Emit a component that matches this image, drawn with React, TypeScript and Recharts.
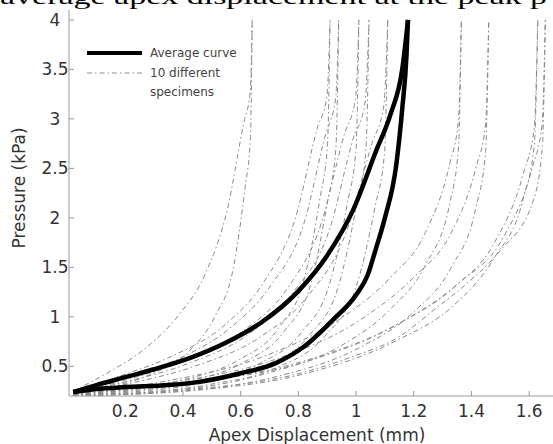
import React from "react";
import { LineChart, Line, XAxis, YAxis } from "recharts";

type Pt = [number, number];

const xTicks = [0.2, 0.4, 0.6, 0.8, 1, 1.2, 1.4, 1.6];
const yTicks = [0.5, 1, 1.5, 2, 2.5, 3, 3.5, 4];

// average hysteresis loop, split into its two branches
const averageUpper: Pt[] = [
  [0.02, 0.24], [0.1, 0.31], [0.2, 0.39], [0.3, 0.47], [0.43, 0.59], [0.55, 0.74],
  [0.67, 0.94], [0.8, 1.26], [0.9, 1.62], [0.99, 2.08], [1.07, 2.68], [1.12, 3.05],
  [1.16, 3.5], [1.18, 4.0],
];
const averageLower: Pt[] = [
  [0.02, 0.24], [0.1, 0.27], [0.2, 0.29], [0.35, 0.31], [0.45, 0.34], [0.6, 0.43],
  [0.72, 0.53], [0.82, 0.7], [0.92, 0.97], [1.0, 1.22], [1.04, 1.42], [1.07, 1.7],
  [1.1, 2.0], [1.14, 2.55], [1.16, 3.1], [1.175, 3.65], [1.18, 4.0],
];

// 10 specimens, upper branch
const specimenUpper: Pt[][] = [
  [[0.02, 0.25], [0.13, 0.42], [0.26, 0.66], [0.38, 1.0], [0.48, 1.45], [0.555, 2.1], [0.61, 2.95], [0.633, 3.27], [0.64, 4.0]],
  [[0.02, 0.24], [0.18, 0.4], [0.36, 0.6], [0.55, 0.93], [0.68, 1.35], [0.79, 2.0], [0.865, 2.9], [0.899, 3.23], [0.91, 4.0]],
  [[0.02, 0.24], [0.19, 0.38], [0.38, 0.57], [0.56, 0.88], [0.7, 1.3], [0.82, 1.95], [0.895, 2.85], [0.929, 3.2], [0.94, 4.0]],
  [[0.02, 0.23], [0.2, 0.36], [0.4, 0.55], [0.61, 0.86], [0.76, 1.28], [0.88, 1.95], [0.96, 2.85], [0.998, 3.2], [1.01, 4.0]],
  [[0.02, 0.23], [0.21, 0.35], [0.42, 0.53], [0.63, 0.83], [0.78, 1.24], [0.91, 1.9], [0.99, 2.8], [1.031, 3.16], [1.045, 4.0]],
  [[0.02, 0.22], [0.22, 0.33], [0.44, 0.5], [0.67, 0.8], [0.83, 1.2], [0.965, 1.85], [1.055, 2.75], [1.096, 3.13], [1.11, 4.0]],
  [[0.02, 0.23], [0.34, 0.35], [0.68, 0.6], [0.955, 1.0], [1.12, 1.4], [1.24, 1.85], [1.325, 2.55], [1.355, 2.99], [1.365, 4.0]],
  [[0.02, 0.23], [0.365, 0.34], [0.73, 0.58], [1.02, 0.98], [1.2, 1.4], [1.33, 1.85], [1.415, 2.5], [1.449, 2.95], [1.46, 4.0]],
  [[0.02, 0.22], [0.41, 0.33], [0.815, 0.55], [1.14, 0.92], [1.34, 1.3], [1.48, 1.75], [1.58, 2.45], [1.618, 2.92], [1.63, 4.0]],
  [[0.02, 0.22], [0.42, 0.33], [0.83, 0.55], [1.16, 0.95], [1.36, 1.35], [1.51, 1.8], [1.61, 2.5], [1.645, 2.95], [1.656, 4.0]],
];

// 10 specimens, lower branch
const specimenLower: Pt[][] = [
  [[0.02, 0.23], [0.16, 0.3], [0.29, 0.42], [0.42, 0.65], [0.51, 1.0], [0.575, 1.5], [0.615, 2.3], [0.634, 2.81], [0.64, 4.0]],
  [[0.02, 0.22], [0.23, 0.28], [0.41, 0.37], [0.59, 0.56], [0.73, 0.88], [0.82, 1.38], [0.875, 2.2], [0.901, 2.74], [0.91, 4.0]],
  [[0.02, 0.22], [0.24, 0.27], [0.42, 0.35], [0.61, 0.54], [0.75, 0.85], [0.845, 1.35], [0.9, 2.15], [0.93, 2.7], [0.94, 4.0]],
  [[0.02, 0.21], [0.25, 0.26], [0.46, 0.34], [0.66, 0.52], [0.81, 0.84], [0.91, 1.35], [0.97, 2.15], [1.0, 2.7], [1.01, 4.0]],
  [[0.02, 0.21], [0.26, 0.25], [0.47, 0.33], [0.68, 0.5], [0.84, 0.82], [0.94, 1.32], [1.0, 2.1], [1.034, 2.67], [1.045, 4.0]],
  [[0.02, 0.2], [0.28, 0.24], [0.5, 0.32], [0.72, 0.48], [0.89, 0.8], [1.0, 1.3], [1.065, 2.1], [1.099, 2.67], [1.11, 4.0]],
  [[0.02, 0.21], [0.41, 0.27], [0.68, 0.42], [0.955, 0.72], [1.12, 1.08], [1.24, 1.52], [1.325, 2.15], [1.355, 2.71], [1.365, 4.0]],
  [[0.02, 0.2], [0.44, 0.26], [0.73, 0.4], [1.02, 0.7], [1.2, 1.05], [1.33, 1.5], [1.415, 2.1], [1.449, 2.67], [1.46, 4.0]],
  [[0.02, 0.2], [0.49, 0.27], [0.815, 0.42], [1.14, 0.76], [1.34, 1.12], [1.48, 1.6], [1.58, 2.2], [1.618, 2.74], [1.63, 4.0]],
  [[0.02, 0.2], [0.4, 0.26], [0.806, 0.43], [0.98, 0.59], [1.15, 0.8], [1.27, 1.07], [1.385, 1.34], [1.5, 1.67], [1.615, 2.18], [1.646, 2.73], [1.656, 4.0]],
];

const toRows = (pts: Pt[]) => pts.map(([x, y]) => ({ x, y }));

const axisColor = "#9a9a9a";
const textColor = "#333";
const sans = "DejaVu Sans";
const dashColor = "#8a8a8a";
const dash = "5 3 1.5 3";

const XTick = (props: any) => {
  const { x, y, payload } = props;
  return (
    <g>
      <line x1={x} x2={x} y1={y} y2={y - 5} stroke={axisColor} />
      <text x={x} y={y + 21} textAnchor="middle" fontFamily={sans} fontSize={17} fill={textColor}>
        {String(payload.value)}
      </text>
    </g>
  );
};

const YTick = (props: any) => {
  const { x, y, payload } = props;
  return (
    <g>
      <line x1={x} x2={x + 5} y1={y} y2={y} stroke={axisColor} />
      <text x={x - 14} y={y + 6} textAnchor="middle" fontFamily={sans} fontSize={17} fill={textColor}>
        {String(payload.value)}
      </text>
    </g>
  );
};

export default function App() {
  return (
    <div style={{ position: "absolute", left: 0, top: 0, width: 553, height: 444, overflow: "hidden", background: "#fff" }}>
      <div style={{ position: "absolute", left: 0, top: 0 }}>
        <LineChart width={558} height={444} margin={{ top: 10, right: 0, bottom: 0, left: 0 }}>
          <XAxis
            dataKey="x"
            type="number"
            domain={[0.005, 1.7]}
            allowDataOverflow
            ticks={xTicks}
            height={48}
            tickSize={0}
            tickMargin={0}
            tickLine={false}
            axisLine={{ stroke: axisColor }}
            tick={<XTick />}
          />
          <XAxis
            xAxisId="top"
            orientation="top"
            type="number"
            domain={[0.005, 1.7]}
            height={0}
            tick={false}
            tickLine={false}
            axisLine={{ stroke: axisColor }}
          />
          <YAxis
            dataKey="y"
            type="number"
            domain={[0.2, 4.1]}
            allowDataOverflow
            ticks={yTicks}
            width={69}
            tickSize={0}
            tickMargin={0}
            tickLine={false}
            axisLine={{ stroke: axisColor }}
            tick={<YTick />}
          />
          {specimenUpper.map((s, i) => (
            <Line
              key={`up-${i}`}
              data={toRows(s)}
              dataKey="y"
              type="monotone"
              stroke={dashColor}
              strokeWidth={1}
              strokeDasharray={dash}
              dot={false}
              isAnimationActive={false}
            />
          ))}
          {specimenLower.map((s, i) => (
            <Line
              key={`lo-${i}`}
              data={toRows(s)}
              dataKey="y"
              type="monotone"
              stroke={dashColor}
              strokeWidth={1}
              strokeDasharray={dash}
              dot={false}
              isAnimationActive={false}
            />
          ))}
          <Line
            data={toRows(averageUpper)}
            dataKey="y"
            type="monotone"
            stroke="#000"
            strokeWidth={4.5}
            dot={false}
            isAnimationActive={false}
          />
          <Line
            data={toRows(averageLower)}
            dataKey="y"
            type="monotone"
            stroke="#000"
            strokeWidth={4.5}
            dot={false}
            isAnimationActive={false}
          />
        </LineChart>
      </div>
      <svg width={553} height={444} style={{ position: "absolute", left: 0, top: 0, pointerEvents: "none" }}>
        <text x={0} y={6.7} transform="scale(1,0.6)" fontFamily="Liberation Serif" fontSize={34} fill="#000">
          average apex displacement at the peak p
        </text>
        <text x={317} y={441} textAnchor="middle" fontFamily={sans} fontSize={17} fill={textColor}>
          Apex Displacement (mm)
        </text>
        <text
          x={0}
          y={0}
          transform="translate(25,188) rotate(-90)"
          textAnchor="middle"
          fontFamily={sans}
          fontSize={17}
          fill={textColor}
        >
          Pressure (kPa)
        </text>
        <line x1={87} x2={142} y1={53} y2={53} stroke="#000" strokeWidth={4} />
        <line x1={87} x2={142} y1={73} y2={73} stroke={dashColor} strokeWidth={1} strokeDasharray={dash} />
        <text x={150} y={57} fontFamily={sans} fontSize={12} fill="#444">Average curve</text>
        <text x={150} y={77} fontFamily={sans} fontSize={12} fill="#444">10 different</text>
        <text x={150} y={96} fontFamily={sans} fontSize={12} fill="#444">specimens</text>
      </svg>
    </div>
  );
}
